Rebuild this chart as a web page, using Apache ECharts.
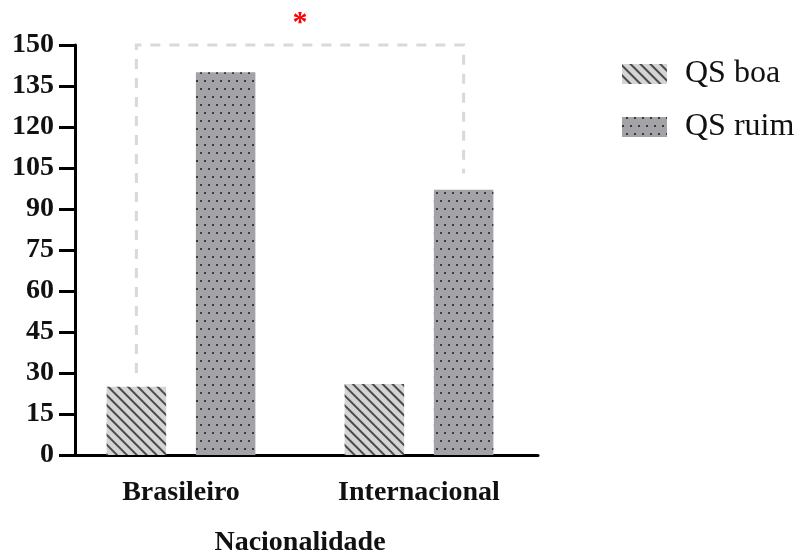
<!DOCTYPE html>
<html>
<head>
<meta charset="utf-8">
<script src="https://cdn.jsdelivr.net/npm/echarts@6/dist/echarts.min.js"></script>
<style>
  html, body { margin: 0; padding: 0; background: #fff; }
  #main { width: 801px; height: 552px; }
</style>
</head>
<body>
<div id="main"></div>
<script>
let categories = ['Brasileiro', 'Internacional'];
let seriesNames = ['QS boa', 'QS ruim'];
let qsBoa = [25, 26];
let qsRuim = [140, 97];
let yTicks = { min: 0, max: 150, interval: 15 };
// significance bracket: [category, series, lower value] at each end, then the top
let bracket = [[0, 0, 30], [1, 1, 103], [150]];
let sigMark = '*';

let serif = "'Liberation Serif', 'Times New Roman', serif";

let chart = echarts.init(document.getElementById('main'));

function barCenterOffset(bandWidth, seriesIdx) {
    // barWidth 25% of band, barGap 50% -> centres at +-0.1875 band
    let off = bandWidth * 0.1875;
    return seriesIdx === 0 ? -off : off;
}

let option = {
    animation: false,
    grid: { left: 62, right: 263, top: 45, bottom: 97, outerBoundsMode: 'none', containLabel: false },
    legend: {
        orient: 'vertical',
        left: 617,
        top: 53,
        itemWidth: 45,
        itemHeight: 20,
        itemGap: 21,
        icon: 'rect',
        textStyle: { fontFamily: serif, fontSize: 32, color: '#111', padding: [0, 0, 0, 13] },
        data: seriesNames
    },
    xAxis: {
        type: 'category',
        data: categories,
        name: 'Nacionalidade',
        nameLocation: 'middle',
        nameGap: 74,
        nameTextStyle: { fontFamily: serif, fontSize: 28, fontWeight: 'bold', color: '#111' },
        axisLine: { lineStyle: { color: '#000', width: 3 } },
        axisTick: { alignWithLabel: true, length: 16, lineStyle: { color: '#000', width: 3 } },
        axisLabel: { fontFamily: serif, fontSize: 28, fontWeight: 'bold', color: '#111', margin: 24 }
    },
    yAxis: {
        type: 'value',
        min: yTicks.min,
        max: yTicks.max,
        interval: yTicks.interval,
        offset: -13,
        splitLine: { show: false },
        axisLine: { show: true, lineStyle: { color: '#000', width: 3 } },
        axisTick: { show: true, length: 16, lineStyle: { color: '#000', width: 3 } },
        axisLabel: { fontFamily: serif, fontSize: 28, fontWeight: 'bold', color: '#111', margin: 21 }
    },
    series: [
        {
            name: seriesNames[0],
            type: 'bar',
            data: qsBoa,
            barWidth: '25%',
            barGap: '50%',
            itemStyle: {
                color: '#d4d4d4',
                decal: {
                    symbol: 'rect',
                    symbolSize: 1,
                    color: '#4a4a4a',
                    dashArrayX: [1, 0],
                    dashArrayY: [2, 5],
                    rotation: Math.PI / 4
                }
            }
        },
        {
            name: seriesNames[1],
            type: 'bar',
            data: qsRuim,
            barWidth: '25%',
            itemStyle: {
                color: '#a3a3a7',
                decal: {
                    symbol: 'rect',
                    symbolSize: 1,
                    color: '#3a3a3a',
                    dashArrayX: [[2, 6], [0, 4, 2, 2]],
                    dashArrayY: [2, 6],
                    rotation: 0
                }
            }
        },
        {
            type: 'custom',
            silent: true,
            data: [0],
            renderItem: function (params, api) {
                let band = api.size([1, 0])[0];
                let a = api.coord([bracket[0][0], bracket[0][2]]);
                let b = api.coord([bracket[1][0], bracket[1][2]]);
                let top = api.coord([0, bracket[2][0]])[1];
                let x1 = a[0] + barCenterOffset(band, bracket[0][1]);
                let x2 = b[0] + barCenterOffset(band, bracket[1][1]);
                return {
                    type: 'group',
                    children: [
                        {
                            type: 'polyline',
                            shape: { points: [[x1, a[1]], [x1, top], [x2, top], [x2, b[1]]] },
                            style: { stroke: '#d9d9d9', lineWidth: 3, fill: null, lineDash: [10, 9] }
                        },
                        {
                            type: 'text',
                            x: (x1 + x2) / 2,
                            y: top - 22,
                            style: {
                                text: sigMark,
                                fill: '#ff0000',
                                font: 'bold 30px ' + serif,
                                align: 'center',
                                verticalAlign: 'middle'
                            }
                        }
                    ]
                };
            }
        }
    ]
};

chart.setOption(option);
</script>
</body>
</html>
